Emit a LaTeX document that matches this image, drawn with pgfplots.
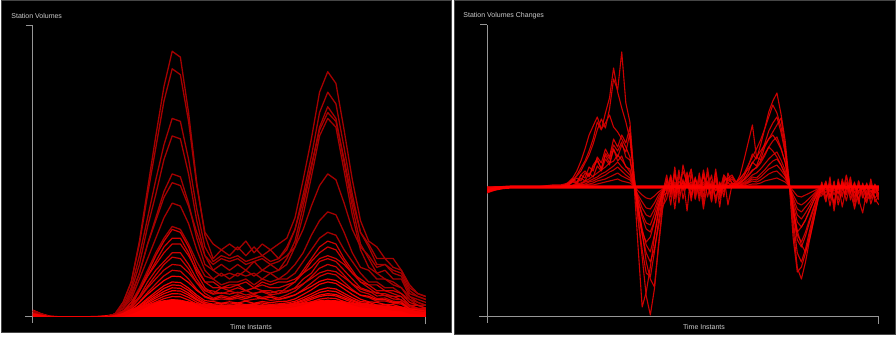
\documentclass[border=0pt]{standalone}
\usepackage{pgfplots}
\usepackage{pgfplotstable}
\pgfplotsset{compat=1.18}
\usepackage{fontspec}
\setmainfont{Liberation Sans}
\definecolor{axgray}{RGB}{150,150,150}
\definecolor{txtgray}{RGB}{205,205,205}
\definecolor{bordergray}{RGB}{70,70,70}
\definecolor{darkline}{RGB}{165,0,0}
\definecolor{midline}{RGB}{205,0,0}
\definecolor{brightline}{RGB}{245,0,0}

\pgfplotstableread[header=true]{
s 0 1 2 3 4 5 6 7 8 9 10 11 12 13 14 15 16 17 18 19 20 21 22 23 24 25 26 27 28 29 30 31 32 33 34 35 36 37 38 39 40 41 42 43 44 45 46 47 48
F  .024 .012 .004 .002 .002 .002 .002 .002 .003 .005  .01 .018 .026 .034 .042 .05 .056 .06 .058 .052  .046 .042 .04 .04 .039 .04 .039 .04 .039 .04  .04 .042 .045 .048 .052 .056 .058 .056 .052 .048  .045 .043 .04 .038 .036 .034 .03 .028 .026
L1  .02 .01 0 0 0 0 0 0 0 0  .01 .05 .12 .26 .44 .62 .79 .91 .89 .70  .46 .28 .20 .23 .21 .24 .21 .24 .21 .23  .20 .24 .30 .40 .52 .64 .70 .67 .54 .40  .29 .25 .20 .20 .17 .16 .10 .08 .07
L2  .02 .01 0 0 0 0 0 0 0 0  .01 .05 .12 .25 .42 .58 .74 .85 .83 .67  .45 .29 .25 .23 .25 .23 .26 .22 .25 .23  .25 .27 .34 .47 .61 .77 .84 .80 .64 .47  .33 .26 .24 .20 .20 .16 .11 .08 .07
L3  .02 .01 0 0 0 0 0 0 0 0  .01 .04 .10 .21 .34 .47 .59 .68 .67 .54  .37 .24 .19 .21 .20 .21 .19 .20 .21 .19  .20 .23 .30 .42 .55 .70 .77 .73 .58 .42  .29 .24 .18 .18 .16 .15 .09 .07 .06
L4  .02 .01 0 0 0 0 0 0 0 0  .01 .03 .09 .18 .31 .42 .54 .62 .61 .49  .33 .21 .16 .18 .16 .18 .16 .19 .16 .18  .16 .20 .26 .38 .51 .65 .72 .68 .53 .38  .25 .20 .15 .16 .13 .13 .07 .06 .05
L5  .02 .01 0 0 0 0 0 0 0 0  .01 .03 .07 .15 .25 .34 .43 .49 .48 .39  .27 .18 .16 .14 .15 .14 .16 .14 .16 .15  .16 .18 .24 .35 .48 .62 .68 .65 .50 .35  .23 .17 .15 .13 .12 .10 .07 .05 .04
L6  .02 .01 0 0 0 0 0 0 0 0  .01 .03 .08 .15 .25 .33 .41 .46 .45 .38  .29 .21 .18 .20 .19 .20 .18 .19 .20 .18  .19 .21 .24 .30 .38 .45 .49 .47 .39 .30  .24 .21 .17 .18 .15 .14 .08 .07 .06
L7  .015 .01 0 0 0 0 0 0 0 0  .01 .03 .06 .13 .20 .27 .34 .39 .38 .32  .23 .16 .13 .15 .13 .15 .14 .15 .13 .15  .13 .15 .18 .22 .28 .33 .36 .35 .29 .22  .17 .16 .13 .13 .11 .10 .06 .05 .04
L8  .015 .008 0 0 0 0 0 0 0 0  .01 .02 .05 .10 .16 .22 .27 .31 .30 .25  .19 .14 .13 .11 .12 .12 .13 .11 .13 .12  .13 .13 .15 .19 .23 .27 .29 .28 .23 .19  .15 .12 .12 .10 .10 .08 .06 .04 .04
L9  .012 .006 0 0 0 0 0 0 0 0  .005 .02 .05 .09 .15 .21 .26 .30 .29 .24  .17 .12 .10 .10 .10 .11 .09 .10 .11 .10  .10 .11 .12 .15 .19 .22 .24 .23 .19 .15  .12 .11 .09 .09 .08 .07 .04 .04 .03
L10 .012 .006 0 0 0 0 0 0 0 0  .005 .02 .04 .09 .14 .19 .24 .27 .27 .22  .15 .10 .08 .10 .09 .10 .09 .10 .09 .09  .08 .10 .12 .16 .20 .24 .26 .25 .20 .16  .12 .10 .08 .08 .07 .07 .04 .03 .03
L11 .012 .006 0 0 0 0 0 0 0 0  .006 .02 .04 .09 .14 .18 .22 .25 .25 .21  .16 .12 .12 .10 .11 .11 .12 .10 .12 .11  .12 .12 .13 .15 .17 .20 .21 .20 .18 .15  .13 .11 .11 .09 .09 .08 .05 .04 .03
L12 .01 .005 0 0 0 0 0 0 0 0  .004 .02 .04 .07 .12 .16 .19 .22 .22 .18  .13 .09 .078 .083 .078 .085 .075 .082 .086 .076  .08 .086 .10 .13 .15 .19 .20 .19 .16 .13  .10 .09 .072 .074 .062 .059 .035 .029 .024
L13 .01 .005 0 0 0 0 0 0 0 0  .004 .014 .032 .065 .106 .144 .18 .205 .20 .165  .117 .081 .064 .074 .067 .076 .068 .077 .067 .073  .065 .076 .089 .112 .138 .167 .18 .172 .143 .112  .087 .079 .063 .065 .054 .052 .030 .025 .021
L14 .01 .005 0 0 0 0 0 0 0 0  .004 .015 .034 .064 .10 .131 .161 .18 .177 .152  .118 .093 .089 .080 .088 .082 .091 .079 .089 .082  .090 .089 .098 .114 .132 .151 .16 .155 .135 .114  .096 .086 .085 .073 .071 .058 .041 .029 .026
L15 .01 .005 0 0 0 0 0 0 0 0  .003 .011 .026 .052 .084 .113 .141 .16 .157 .13  .095 .068 .058 .062 .059 .064 .056 .061 .064 .057  .060 .065 .075 .094 .116 .139 .15 .144 .119 .094  .074 .067 .054 .055 .047 .044 .026 .022 .018
L16 .01 .005 0 0 0 0 0 0 0 0  .003 .012 .026 .05 .078 .102 .125 .14 .138 .118  .091 .071 .060 .069 .062 .070 .063 .072 .062 .068  .060 .068 .076 .09 .105 .122 .13 .125 .108 .09  .075 .071 .059 .060 .050 .048 .028 .024 .020
L17 .008 .004 0 0 0 0 0 0 0 0  .003 .009 .021 .04 .064 .086 .107 .12 .118 .099  .075 .056 .053 .047 .052 .048 .054 .047 .053 .049  .053 .054 .062 .077 .093 .112 .12 .115 .096 .077  .061 .052 .050 .043 .042 .034 .024 .017 .015
L18 .008 .004 0 0 0 0 0 0 0 0  .002 .008 .019 .037 .059 .078 .098 .11 .108 .091  .068 .05 .044 .047 .044 .048 .042 .046 .048 .043  .045 .048 .054 .066 .079 .093 .10 .096 .081 .066  .053 .05 .041 .042 .035 .033 .019 .016 .014
L19 .008 .004 0 0 0 0 0 0 0 0  .002 .007 .017 .033 .053 .071 .088 .10 .098 .082  .061 .045 .037 .042 .038 .043 .039 .044 .038 .042  .037 .043 .049 .059 .071 .084 .09 .087 .073 .059  .048 .045 .036 .037 .031 .030 .017 .015 .012
L20 .006 .003 0 0 0 0 0 0 0 0  .002 .007 .016 .031 .049 .065 .08 .09 .089 .075  .058 .044 .042 .038 .041 .038 .043 .037 .042 .039  .042 .042 .047 .055 .065 .075 .08 .077 .066 .055  .046 .04 .040 .034 .033 .027 .019 .014 .012
L21 .006 .003 0 0 0 0 0 0 0 0  .002 .006 .015 .028 .044 .058 .071 .08 .079 .067  .051 .039 .034 .036 .034 .037 .033 .036 .037 .033  .035 .037 .042 .05 .06 .07 .075 .072 .061 .05  .041 .038 .032 .032 .027 .026 .015 .013 .011
L22 .005 .003 0 0 0 0 0 0 0 0  .002 .006 .012 .024 .038 .051 .063 .07 .069 .058  .044 .033 .028 .032 .029 .032 .029 .033 .029 .031  .028 .032 .036 .043 .052 .061 .065 .063 .053 .043  .035 .033 .027 .028 .023 .022 .013 .011 .009
}\leftraw
\pgfplotstabletranspose[colnames from=s, input colnames to=t]\leftdata{\leftraw}

\pgfplotstableread[header=true]{
s 0 1 2 3 4 5 6 7 8 9 9.5 10 10.5 11 11.5 12 12.5 13 13.5 14 14.5 15 15.5 16 16.5 17 17.5 18 18.5 19 19.5 20 20.5 21 21.5 22 22.5 23 23.5 24 24.5 25 25.5 26 26.5 27 27.5 28 28.5 29 29.5 30 30.5 31 31.5 32 32.5 33 33.5 34 34.5 35 35.5 36 36.5 37 37.5 38 38.5 39 39.5 40 40.5 41 41.5 42 42.5 43 43.5 44 44.5 45 45.5 46 46.5 47 47.5 48
R1  -4 -2 0 0 0 0 0 1 2  2 3 4 7 11 16 24 32 43 57 68 59 78 108 97 135 84 65 11  -32 -63 -86 -90 -65 -34 -11  6 -18 16 -9 22 4 17 -12 14 -17 19 -6 9 -20 11 4 8  2 4 8 15 25 21 32 43 56 64 70 55 35 4  -27 -53 -60 -49 -35 -22 -9  -9 4 -19 2 -13 8 -7 10 -15 6 -11 4 -17 -3 -13
R2  -6 -3 -1 0 0 0 0 0 1  0 1 2 6 12 19 26 36 48 65 57 74 89 119 95 79 65 48 7  -32 -70 -109 -128 -102 -58 -19  -12 9 -22 13 -4 15 -14 10 -9 17 -2 12 -16 5 -10 14 3  3 6 11 21 33 28 42 58 75 86 94 73 47 6  -41 -81 -92 -75 -53 -33 -14  -1 -15 6 -21 8 -9 11 -13 5 -17 4 -11 6 -15 -9
R3  -3 -1 0 0 0 0 0 0 1  1 2 5 9 16 26 38 52 61 70 58 64 72 60 55 48 40 30 4  -60 -120 -105 -80 -50 -22 -6  12 -10 20 -16 8 -24 15 -12 9 -22 4 -15 18 -8 12 -18 2  4 12 28 45 62 30 27 40 48 52 46 38 25 3  -34 -66 -75 -62 -44 -27 -11  5 -14 10 -24 4 -10 12 -6 -20 6 -8 -16 8 -12 -18
R4  -5 -2 0 0 0 0 0 0 0  0 1 3 6 4 12 9 20 16 30 24 38 30 48 40 52 44 60 12  -18 -45 -75 -92 -100 -60 -22  -3 12 -9 17 -12 6 18 -7 12 -10 15 -14 8 -4 12 6 10  4 8 14 22 30 38 47 58 70 82 74 60 35 4  -52 -85 -80 -66 -48 -30 -12  -6 2 -12 6 -18 -2 -8 8 -22 -4 0 -14 -6 2 -10
R5  -3 -1 0 0 0 0 0 0 0  0 2 4 8 5 12 16 11 22 28 18 32 24 38 30 42 35 54 10  -25 -48 -66 -75 -62 -40 -15  8 -7 13 -5 16 4 -10 9 -14 11 2 -9 14 -12 6 9 12  5 9 13 18 24 30 36 42 48 55 62 69 40 5  -22 -44 -58 -65 -52 -34 -14  3 -10 -2 -16 5 -20 0 -6 4 -12 -26 -4 -10 3 -8
R6  -2 -1 0 0 0 0 0 0 0  0 1 3 6 9 6 14 10 20 26 18 34 28 42 36 45 30 27 5  -20 -42 -58 -65 -48 -26 -9  -6 10 -12 6 -2 11 -8 8 -4 13 -10 6 -11 4 -5 9 4  3 5 8 12 17 19 24 31 40 46 50 39 25 3  -25 -48 -55 -45 -32 -20 -8  -4 6 -10 2 -7 4 -14 3 -5 -12 2 -8 -3 -11 -6
R7  -2 0 0 0 0 0 0 0 0  0 1 2 5 3 9 6 14 10 21 16 28 22 38 26 31 20 18 3  -24 -45 -55 -50 -35 -18 -6  2 -4 5 -2 6 1 5 -3 3 -4 6 -1 2 -5 3 1 4  2 4 7 11 16 20 26 33 40 36 30 22 12 2  -22 -45 -40 -33 -24 -14 -6  -5 3 -9 1 -6 5 -3 4 -10 2 -6 3 -12 -1 -7
R8  -2 -1 0 0 0 0 0 0 0  0 0 1 2 3 4 6 8 11 14 17 20 24 26 32 27 21 15 3  -14 -30 -42 -45 -34 -18 -6  -2 4 -5 2 -1 5 -3 3 -2 5 -1 3 -4 1 -2 4 2  2 3 5 8 12 14 18 23 28 32 35 27 17 2  -18 -35 -40 -33 -23 -14 -6  1 -6 3 -8 4 -3 5 -5 2 -7 1 -4 2 -6 -3
R9  -1 0 0 0 0 0 0 0 0  0 0 1 1 2 3 5 6 8 10 13 15 18 21 25 20 16 12 2  -13 -27 -36 -38 -27 -14 -5  1 -3 3 -1 4 0 3 -2 2 -3 4 -1 1 -4 2 0 2  1 2 4 6 10 9 13 17 22 26 28 22 14 2  -14 -28 -32 -26 -19 -11 -5  -2 2 -5 1 -3 3 -2 3 -6 1 -3 2 -5 0 -3
R10 -1 0 0 0 0 0 0 0 0  0 0 1 1 2 2 3 5 6 8 10 12 15 17 20 16 12 9 2  -10 -21 -28 -30 -22 -11 -4  -1 2 -3 2 -1 3 -2 2 -1 3 -1 2 -3 1 -1 2 1  1 2 3 5 8 7 10 14 18 20 22 17 11 1  -11 -22 -25 -20 -15 -9 -4  1 -3 2 -4 2 -2 3 -3 1 -4 2 -2 1 -3 -2
R11 0 0 0 0 0 0 0 0 0  0 0 0 1 1 2 2 3 4 6 7 8 10 12 14 11 9 7 1  -8 -15 -21 -22 -16 -8 -3  1 -2 2 -1 2 0 2 -1 1 -2 2 -1 1 -2 1 0 1  0 1 2 4 6 5 7 10 13 15 16 12 8 1  -8 -16 -18 -15 -11 -7 -3  -1 1 -3 1 -2 2 -1 2 -3 1 -2 1 -2 0 -2
R12 0 0 0 0 0 0 0 0 0  0 0 0 0 1 1 1 2 2 3 4 5 6 7 8 6 5 4 1  -4 -8 -11 -12 -9 -5 -2  0 -1 1 -1 1 0 1 -1 0 -1 1 0 1 -1 0 0 1  0 1 1 2 3 3 4 6 7 8 9 7 5 1  -4 -9 -10 -8 -6 -4 -2  0 1 -1 0 -1 1 0 1 -1 0 -1 0 -1 0 -1
}\rightraw
\pgfplotstabletranspose[colnames from=s, input colnames to=t]\rightdata{\rightraw}

\pgfplotsset{
  panelaxis/.style={
    scale only axis, xmin=0, xmax=48,
    axis x line*=bottom, axis y line*=left,
    axis line style={axgray, line width=0.5pt},
    x axis line style={shorten <=-4pt},
    y axis line style={shorten <=-3pt},
    xtick={48}, xticklabels={}, yticklabels={},
    tick align=outside, major tick length=3.5pt,
    tick style={axgray, line width=0.5pt},
  },
}

\begin{document}
\begin{tikzpicture}[x=1pt,y=1pt]
\fill[white] (0,0) rectangle (448,169);
\filldraw[fill=black, draw=bordergray, line width=0.5pt] (0.5,2.5) rectangle (225.5,168.75);
\filldraw[fill=black, draw=bordergray, line width=0.5pt] (227.25,1.5) rectangle (447.75,168.75);

\begin{axis}[panelaxis, at={(16.5pt,10.5pt)}, anchor=south west,
  width=196.5pt, height=146pt, ymin=0, ymax=1, ytick={1}]
  \addplot[fill=red, draw=red, line width=0.4pt] table[x=t,y=F]{\leftdata} \closedcycle;
  \pgfplotsinvokeforeach{L1,L2,L3,L4,L5,L6,L7,L8}{
    \addplot[color=darkline, line width=0.65pt, line join=round] table[x=t,y=#1]{\leftdata};
  }
  \pgfplotsinvokeforeach{L9,L10,L11,L12,L13,L14,L15}{
    \addplot[color=midline, line width=0.6pt, line join=round] table[x=t,y=#1]{\leftdata};
  }
  \pgfplotsinvokeforeach{L16,L17,L18,L19,L20,L21,L22}{
    \addplot[color=brightline, line width=0.6pt, line join=round] table[x=t,y=#1]{\leftdata};
  }
\end{axis}

\begin{axis}[panelaxis, at={(243.5pt,10.5pt)}, anchor=south west,
  width=196pt, height=146pt, ymin=-130, ymax=162, ytick={162}]
  \pgfplotsinvokeforeach{R1,R2,R3,R4}{
    \addplot[color=midline, line width=0.55pt, line join=round] table[x=t,y=#1]{\rightdata};
  }
  \pgfplotsinvokeforeach{R5,R6,R7,R8,R9,R10,R11,R12}{
    \addplot[color=brightline, opacity=0.8, line width=0.55pt, line join=round] table[x=t,y=#1]{\rightdata};
  }
  \addplot[color=red, line width=1.6pt] coordinates {(0,-4) (1,-2) (2,-0.5) (3,0) (48,0)};
\end{axis}

\node[anchor=west, inner sep=0pt, text=txtgray, font=\fontsize{3.5}{4}\selectfont] at (5.5,161) {Station Volumes};
\node[anchor=west, inner sep=0pt, text=txtgray, font=\fontsize{3.5}{4}\selectfont] at (231.5,161) {Station Volumes Changes};
\node[inner sep=0pt, text=txtgray, font=\fontsize{3.5}{4}\selectfont] at (125.5,5.5) {Time Instants};
\node[inner sep=0pt, text=txtgray, font=\fontsize{3.5}{4}\selectfont] at (352,5.5) {Time Instants};

\pgfresetboundingbox
\useasboundingbox (0,0) rectangle (448,169);
\end{tikzpicture}
\end{document}
